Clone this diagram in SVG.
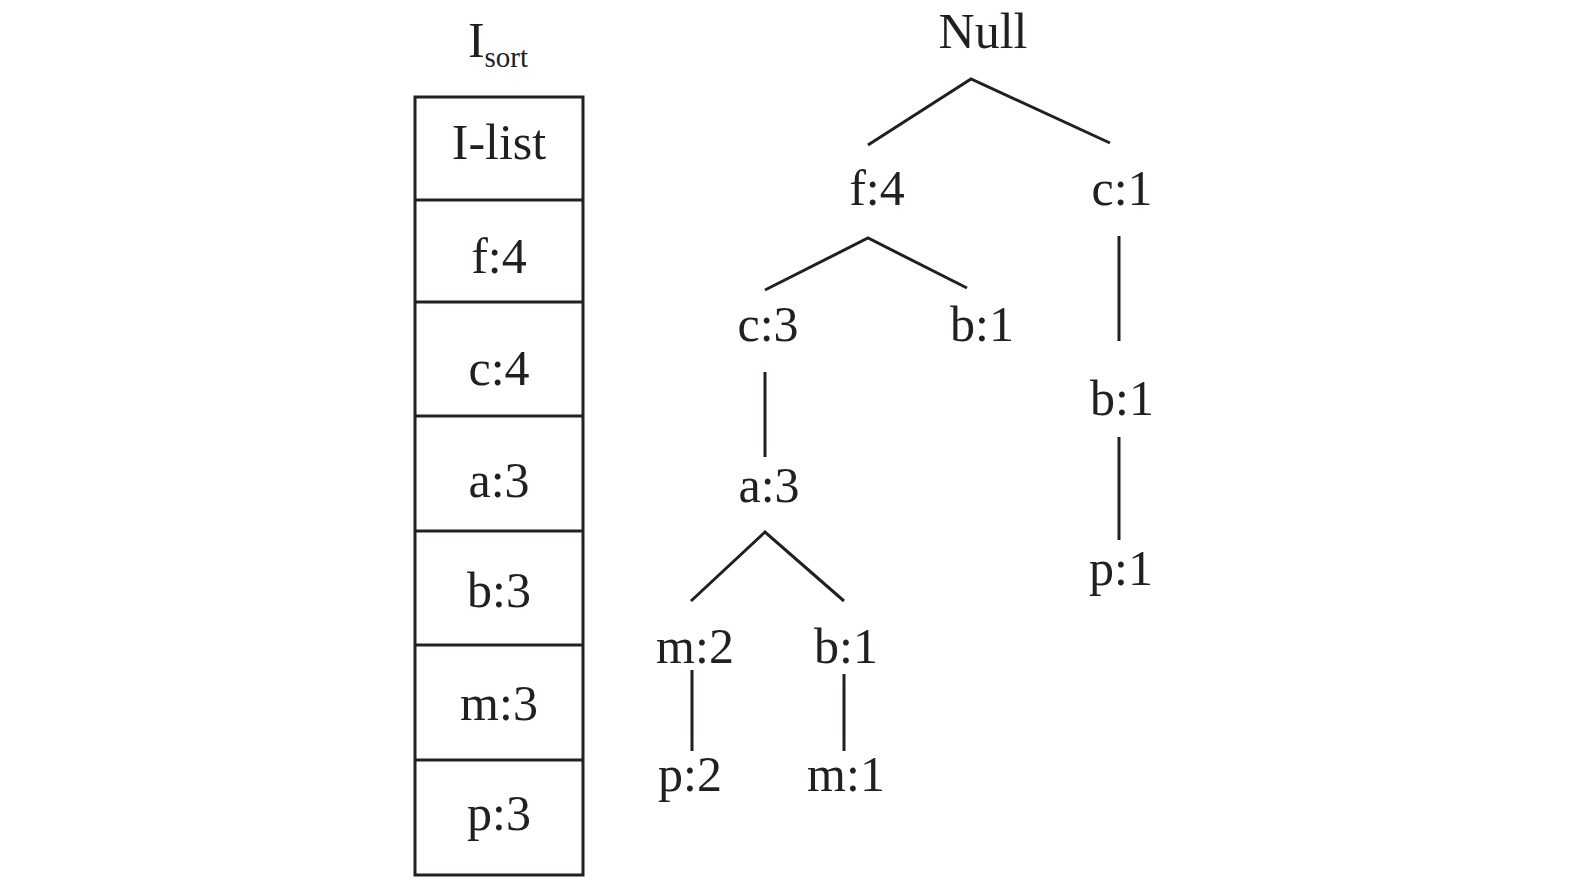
<svg xmlns="http://www.w3.org/2000/svg" width="1575" height="881" viewBox="0 0 1575 881">
<style>
text{font-family:"Liberation Serif","Times New Roman",serif;font-size:50px;fill:#231f20;text-anchor:middle}
.sub{font-size:29px}
.box{fill:none;stroke:#231f20;stroke-width:3}
.edge{fill:none;stroke:#231f20;stroke-width:3}
</style>
<rect width="1575" height="881" fill="#fff"/>
<g id="isort-title"><text x="498" y="57"><tspan>I</tspan><tspan class="sub" dy="10">sort</tspan></text></g>
<g id="isort-table">
<rect class="box" x="415" y="97" width="168" height="778"/>
<line class="box" x1="415" y1="200" x2="583" y2="200"/>
<line class="box" x1="415" y1="302" x2="583" y2="302"/>
<line class="box" x1="415" y1="416" x2="583" y2="416"/>
<line class="box" x1="415" y1="531" x2="583" y2="531"/>
<line class="box" x1="415" y1="645" x2="583" y2="645"/>
<line class="box" x1="415" y1="760" x2="583" y2="760"/>
<text x="499" y="159">I-list</text>
<text x="499" y="273">f:4</text>
<text x="499" y="385">c:4</text>
<text x="499" y="497">a:3</text>
<text x="499" y="607">b:3</text>
<text x="499" y="720">m:3</text>
<text x="499" y="830">p:3</text>
</g>
<g id="connectors">
<polyline class="edge" points="868,145 971,79 1110,143"/>
<polyline class="edge" points="765,290 868,238 967,288"/>
<line class="edge" x1="1119" y1="236" x2="1119" y2="341"/>
<line class="edge" x1="765" y1="372" x2="765" y2="457"/>
<polyline class="edge" points="691,601 765,532 844,601"/>
<line class="edge" x1="1119" y1="437" x2="1119" y2="540"/>
<line class="edge" x1="692" y1="670" x2="692" y2="751"/>
<line class="edge" x1="844" y1="674" x2="844" y2="751"/>
</g>
<g id="n-null"><text x="983" y="48">Null</text></g>
<g id="n-f4"><text x="877" y="205">f:4</text></g>
<g id="n-c1"><text x="1122" y="205">c:1</text></g>
<g id="n-c3"><text x="768" y="341">c:3</text></g>
<g id="n-b1a"><text x="982" y="341">b:1</text></g>
<g id="n-b1b"><text x="1122" y="415">b:1</text></g>
<g id="n-a3"><text x="769" y="502">a:3</text></g>
<g id="n-p1"><text x="1121" y="585">p:1</text></g>
<g id="n-m2"><text x="695" y="663">m:2</text></g>
<g id="n-b1c"><text x="846" y="663">b:1</text></g>
<g id="n-p2"><text x="690" y="791">p:2</text></g>
<g id="n-m1"><text x="846" y="791">m:1</text></g>
</svg>
